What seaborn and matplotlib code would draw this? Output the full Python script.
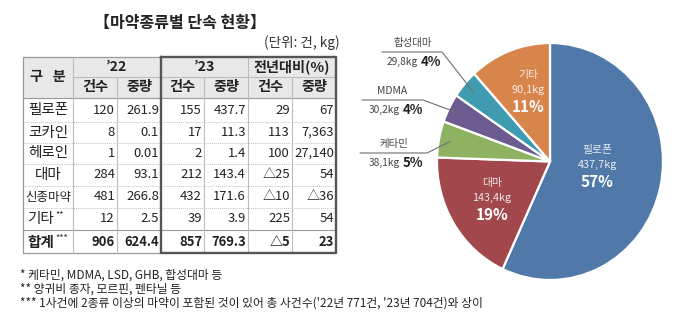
import matplotlib
matplotlib.use('Agg')
import matplotlib.pyplot as plt
import seaborn as sns
import numpy as np

sns.set_theme(style='white')
plt.rcParams['font.family'] = ['Noto Sans CJK KR', 'DejaVu Sans']

# ---------------- data ----------------
title = '【마약종류별 단속 현황】'
unit_text = '(단위: 건, kg)'
row_labels = ['필로폰', '코카인', '헤로인', '대마', '신종마약', '기타', '합계']
row_marks = ['', '', '', '', '', '**', '***']
cases_22 = [120, 8, 1, 284, 481, 12, 906]
weight_22 = [261.9, 0.1, 0.01, 93.1, 266.8, 2.5, 624.4]
cases_23 = [155, 17, 2, 212, 432, 39, 857]
weight_23 = [437.7, 11.3, 1.4, 143.4, 171.6, 3.9, 769.3]
yoy_cases = [29, 113, 100, -25, -10, 225, -5]
yoy_weight = [67, 7363, 27140, 54, -36, 54, 23]
first_header = '구   분'
year_headers = ['’22', '’23', '전년대비(%)']
sub_headers = ['건수', '중량']

pie_labels = ['필로폰', '대마', '케타민', 'MDMA', '합성대마', '기타']
pie_kg = [437.7, 143.4, 38.1, 30.2, 29.8, 90.1]
pie_pct = [57, 19, 5, 4, 4, 11]
pie_colors = ['#5079a9', '#a2484c', '#8db262', '#6c5b90', '#3f9baf', '#d8854c']

footnotes = ['* 케타민, MDMA, LSD, GHB, 합성대마 등',
             '** 양귀비 종자, 모르핀, 펜타닐 등',
             "*** 1사건에 2종류 이상의 마약이 포함된 것이 있어 총 사건수('22년 771건, '23년 704건)와 상이"]

# ---------------- layout ----------------
W, H = 680, 331
fig = plt.figure(figsize=(W / 100, H / 100), dpi=100)
fig.patch.set_facecolor('white')

# pie axes (pixel box)
cx, cy, rx, ry = 550, 161.5, 113, 118.5
pax = fig.add_axes([(cx - rx) / W, (H - cy - ry) / H, 2 * rx / W, 2 * ry / H])
pax.set_zorder(1)
wedges, _ = pax.pie(pie_kg, colors=pie_colors, startangle=90, counterclock=False,
                    wedgeprops=dict(edgecolor='white', linewidth=1.6))
pax.set_aspect('auto')
pax.set_xlim(-1, 1)
pax.set_ylim(-1, 1)
pax.axis('off')

# overlay axes in pixel coordinates
ax = fig.add_axes([0, 0, 1, 1])
ax.set_zorder(2)
ax.set_xlim(0, W)
ax.set_ylim(H, 0)
ax.axis('off')
ax.patch.set_alpha(0)

TXT = '#222222'

# title and unit
ax.text(180, 23, title, ha='center', va='center', fontsize=11.5, fontweight='bold', color=TXT)
ax.text(340, 43, unit_text, ha='right', va='center', fontsize=9.8, color='#333333')

# table geometry
X = [23, 73, 117, 161, 204, 248, 292, 336]
Y = [57, 77, 98, 122, 143, 164, 186, 208, 230, 253]

# header background
ax.add_patch(plt.Rectangle((X[0], Y[0]), X[-1] - X[0], Y[2] - Y[0],
                           facecolor='#e8e8e8', edgecolor='none', zorder=0))

thin = dict(color='#bdbdbd', lw=0.8, zorder=1)
outer = dict(color='#999999', lw=0.9, zorder=1)
thick = dict(color='#555555', lw=1.7, zorder=3, solid_capstyle='projecting')

# horizontal lines
ax.plot([X[0], X[3]], [Y[0], Y[0]], **outer)
ax.plot([X[1], X[-1]], [Y[1], Y[1]], **thin)
ax.plot([X[0], X[-1]], [Y[2], Y[2]], color='#999999', lw=0.8, zorder=1)
for yy in Y[3:-2]:
    ax.plot([X[0], X[-1]], [yy, yy], color='#c4c4c4', lw=0.7, ls=(0, (1, 1)), zorder=1)
ax.plot([X[0], X[-1]], [Y[-2], Y[-2]], color='#999999', lw=0.8, zorder=1)
ax.plot([X[0], X[3]], [Y[-1], Y[-1]], **outer)

# vertical lines
ax.plot([X[0], X[0]], [Y[0], Y[-1]], **outer)
ax.plot([X[1], X[1]], [Y[0], Y[-1]], **thin)
ax.plot([X[2], X[2]], [Y[1], Y[-1]], **thin)
ax.plot([X[4], X[4]], [Y[1], Y[-1]], **thin)
ax.plot([X[5], X[5]], [Y[0], Y[-1]], **thin)
ax.plot([X[6], X[6]], [Y[1], Y[-1]], **thin)

# thick box around '23 and yoy columns
ax.plot([X[3], X[-1], X[-1], X[3], X[3]], [Y[0], Y[0], Y[-1], Y[-1], Y[0]], **thick)

# headers
hfs = 10.2
ax.text((X[0] + X[1]) / 2, (Y[0] + Y[2]) / 2, first_header, ha='center', va='center',
        fontsize=hfs, fontweight='bold', color=TXT)
for k, lab in enumerate(year_headers):
    xl, xr = X[1 + 2 * k], X[3 + 2 * k]
    ax.text((xl + xr) / 2, (Y[0] + Y[1]) / 2, lab, ha='center', va='center',
            fontsize=hfs, fontweight='bold', color=TXT)
    for s, sub in enumerate(sub_headers):
        a, b = X[1 + 2 * k + s], X[2 + 2 * k + s]
        ax.text((a + b) / 2, (Y[1] + Y[2]) / 2, sub, ha='center', va='center',
                fontsize=hfs, fontweight='bold', color=TXT)


def fmt_w(v):
    return f'{v:g}'


def fmt_yoy(v):
    return ('△' if v < 0 else '') + f'{abs(v):,}'


for i, lab in enumerate(row_labels):
    yc = (Y[2 + i] + Y[3 + i]) / 2
    bold = (i == len(row_labels) - 1)
    fw = 'bold' if bold else 'normal'
    lab_fs = 9.0 if len(lab) > 3 else 10.5
    if row_marks[i]:
        ax.text(54, yc, lab, ha='right', va='center', fontsize=lab_fs, fontweight=fw, color=TXT)
        ax.text(55, yc - 4, row_marks[i], ha='left', va='center', fontsize=6.5, color=TXT)
    else:
        ax.text((X[0] + X[1]) / 2, yc, lab, ha='center', va='center', fontsize=lab_fs,
                fontweight=fw, color=TXT)
    vals = [str(cases_22[i]), fmt_w(weight_22[i]), str(cases_23[i]), fmt_w(weight_23[i]),
            fmt_yoy(yoy_cases[i]), fmt_yoy(yoy_weight[i])]
    for j, v in enumerate(vals):
        ax.text(X[j + 2] - 2, yc, v, ha='right', va='center', fontsize=9.4, fontweight=fw, color=TXT)

# footnotes
for k, fn in enumerate(footnotes):
    ax.text(20, 275 + 14 * k, fn, ha='left', va='center', fontsize=8.5, color=TXT)

# ---------------- pie labels ----------------
def pie_to_px(x, y):
    d = pax.transData.transform((x, y))
    return ax.transData.inverted().transform(d)

# inside labels (center of kg line in pixels)
inside_pos = {0: (597, 165), 1: (492, 198), 5: (528, 90)}
for i, (px, py) in inside_pos.items():
    ax.text(px, py - 15, pie_labels[i], ha='center', va='center', fontsize=7.8,
            color='white', alpha=0.85)
    ax.text(px, py, f'{pie_kg[i]:.1f}'.replace('.', ',') + 'kg', ha='center', va='center',
            fontsize=7.8, color='white', alpha=0.85)
    ax.text(px, py + 17, f'{pie_pct[i]}%', ha='center', va='center', fontsize=11,
            fontweight='bold', color='white')

# outside labels: (underline left, underline right, underline y, name x, split x)
outside_pos = {4: (382, 442, 52, 413, 418), 3: (362, 423, 100, 392, 400), 2: (360, 427, 153, 394, 400)}
for i, (xl, xr, yu, nx, sx) in outside_pos.items():
    w = wedges[i]
    mid = np.deg2rad((w.theta1 + w.theta2) / 2)
    axp, ayp = pie_to_px(0.9 * np.cos(mid), 0.9 * np.sin(mid))
    ax.plot([xl, xr, axp], [yu, yu, ayp], color='#6f6f6f', lw=0.8, zorder=4)
    ax.text(nx, yu - 9, pie_labels[i], ha='center', va='center', fontsize=7.5, color='#444444')
    ax.text(sx, yu + 10, f'{pie_kg[i]:.1f}'.replace('.', ',') + 'kg', ha='right', va='center',
            fontsize=7.3, color='#444444')
    ax.text(sx + 3, yu + 10, f'{pie_pct[i]}%', ha='left', va='center', fontsize=9.5,
            fontweight='bold', color='#222222')

fig.savefig('out.png', dpi=100, facecolor='white')
